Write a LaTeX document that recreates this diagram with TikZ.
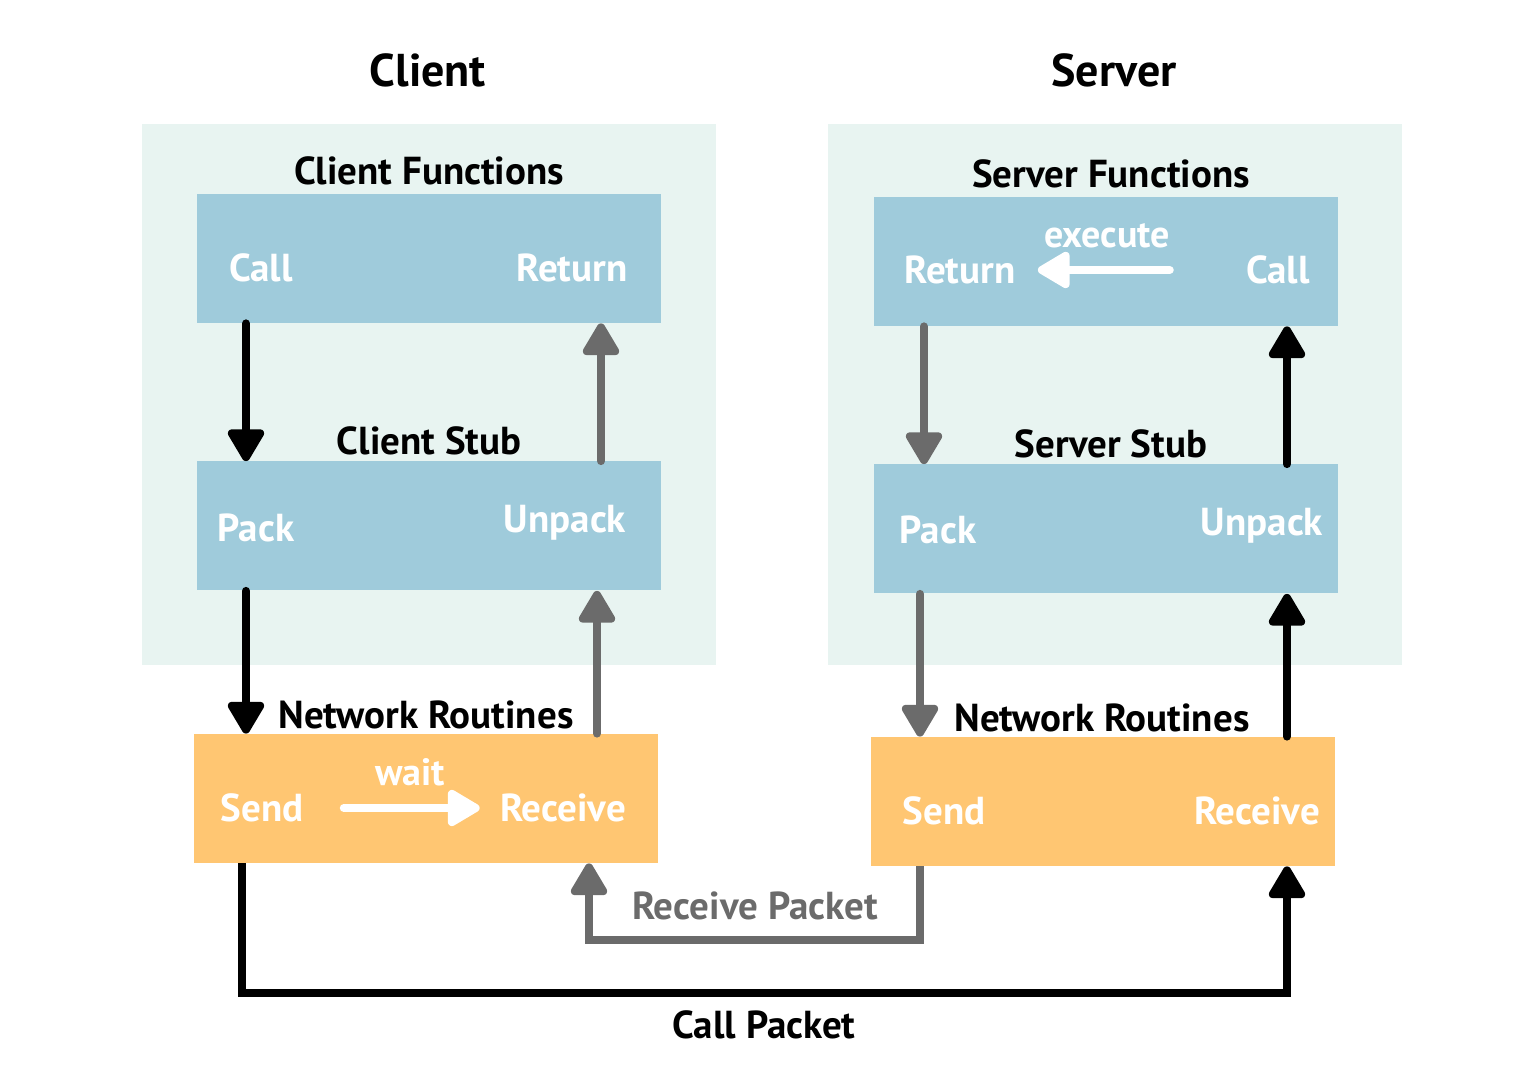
\documentclass[tikz,border=0pt]{standalone}
\usepackage{fontspec}
\setmainfont{PT Sans}
\usetikzlibrary{arrows.meta}
\definecolor{panelbg}{HTML}{E8F4F1}
\definecolor{boxblue}{HTML}{9FCBDB}
\definecolor{boxorange}{HTML}{FFC672}
\definecolor{arrgray}{HTML}{6B6B6B}
\begin{document}
\begin{tikzpicture}[x=0.5pt,y=-0.5pt,
    panel/.style={fill=panelbg, minimum width=287pt, minimum height=270.5pt, inner sep=0},
    blubox/.style={fill=boxblue, minimum width=232pt, minimum height=64.5pt, inner sep=0},
    orgbox/.style={fill=boxorange, minimum width=232pt, minimum height=64.5pt, inner sep=0},
    title/.style={inner sep=0, font=\bfseries\fontsize{23}{27}\selectfont},
    head/.style={inner sep=0, font=\bfseries\fontsize{19.5}{23}\selectfont},
    inlbl/.style={inner sep=0, text=white, font=\bfseries\fontsize{19.5}{23}\selectfont},
    small/.style={inner sep=0, text=white, font=\bfseries\fontsize{19}{22}\selectfont},
    blk/.style={line width=4pt, line cap=round, -{Triangle[length=18pt,width=20pt,round]}},
    gry/.style={blk, draw=arrgray},
    wht/.style={blk, draw=white}]
  \useasboundingbox (0,0) rectangle (1539,1090);

  % Titles
  \node[title] (client) at (428,70) {Client};
  \node[title] (server) at (1114,70) {Server};

  % Client side
  \node[panel] (cpanel) at (429,394.5) {};
  \node[blubox] (cfun) at (429,258.5) {};
  \node[blubox] (cstub) at (429,526) {};
  \node[orgbox] (cnet) at (425.5,798.5) {};
  \node[head] (cfunlbl) at (429,171) {Client Functions};
  \node[head] (cstublbl) at (429,441) {Client Stub};
  \node[head] (cnetlbl) at (426,715) {Network Routines};
  \node[inlbl] (ccall) at (261,268) {Call};
  \node[inlbl] (cret) at (572,268) {Return};
  \node[inlbl] (cpack) at (256,528) {Pack};
  \node[inlbl] (cunpack) at (565,523) {Unpack};
  \node[inlbl] (csend) at (262,808) {Send};
  \node[inlbl] (crecv) at (563,808) {Receive};
  \node[small] (cwait) at (410,772) {wait};

  % Server side
  \node[panel] (spanel) at (1115,394.5) {};
  \node[blubox] (sfun) at (1106,261.5) {};
  \node[blubox] (sstub) at (1106,529) {};
  \node[orgbox] (snet) at (1103,801.5) {};
  \node[head] (sfunlbl) at (1111,174) {Server Functions};
  \node[head] (sstublbl) at (1111,444) {Server Stub};
  \node[head] (snetlbl) at (1102,718) {Network Routines};
  \node[inlbl] (sret) at (960,270) {Return};
  \node[inlbl] (scall) at (1278,270) {Call};
  \node[inlbl] (spack) at (938,530) {Pack};
  \node[inlbl] (sunpack) at (1262,526) {Unpack};
  \node[inlbl] (ssend) at (944,811) {Send};
  \node[inlbl] (srecv) at (1257,811) {Receive};
  \node[small] (sexec) at (1107,236) {execute};

  % Packet labels
  \node[head, text=arrgray] (rpack) at (755,906) {Receive Packet};
  \node[head] (cpack2) at (764,1025) {Call Packet};

  % Arrow columns
  \coordinate (cL) at (246,0);
  \coordinate (cR) at (601,0);
  \coordinate (cR2) at (597,0);
  \coordinate (cS) at (242,0);
  \coordinate (cI) at (589,0);
  \coordinate (sL) at (924,0);
  \coordinate (sL2) at (920,0);
  \coordinate (sR) at (1287,0);
  \coordinate (midy) at (0,940);
  \coordinate (boty) at (0,993);

  % Client arrows
  \draw[blk] (cL |- cfun.south) -- (cL |- cstub.north);
  \draw[gry] (cR |- cstub.north) -- (cR |- cfun.south);
  \draw[blk] (cL |- cstub.south) -- (cL |- cnet.north);
  \draw[gry] (cR2 |- cnet.north) -- (cR2 |- cstub.south);
  \draw[wht, shorten <=20pt, shorten >=10pt] (csend.east) -- (crecv.west);

  % Server arrows
  \draw[gry] (sL |- sfun.south) -- (sL |- sstub.north);
  \draw[blk] (sR |- sstub.north) -- (sR |- sfun.south);
  \draw[gry] (sL2 |- sstub.south) -- (sL2 |- snet.north);
  \draw[blk] (sR |- snet.north) -- (sR |- sstub.south);
  \draw[wht, shorten <=38pt, shorten >=11pt] (scall.west) -- (sret.east);

  % Packets
  \draw[gry, line cap=butt] (sL2 |- snet.south) -- (sL2 |- midy) -| (cI |- cnet.south);
  \draw[blk, line cap=butt] (cS |- cnet.south) -- (cS |- boty) -| (sR |- snet.south);
\end{tikzpicture}
\end{document}
